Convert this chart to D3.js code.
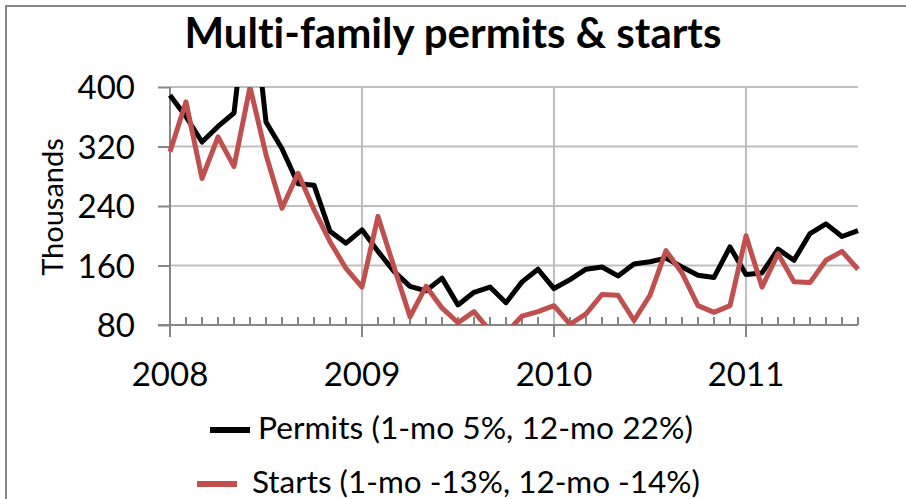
<!DOCTYPE html>
<html>
<head>
<meta charset="utf-8">
<script src="https://cdn.jsdelivr.net/npm/d3@7"></script>
<style>
  body { margin: 0; background: #fff; }
  text { font-family: Lato, "Open Sans", sans-serif; fill: #000; font-variant-ligatures: none; }
</style>
</head>
<body>
<div id="container"></div>
<script>
const w = 906;
const h = 499;

// monthly, Jan 2008 .. Aug 2011 (thousands, annual rate)
const years = [2008, 2009, 2010, 2011];
const yTicks = [80, 160, 240, 320, 400];
const permits = [389, 360, 326, 347, 365, 550, 353, 317, 270, 268, 206, 190,
                 208, 179, 152, 132, 126, 143, 107, 124, 131, 110, 138, 155,
                 129, 141, 155, 158, 146, 162, 165, 170, 158, 147, 144, 185,
                 148, 150, 182, 167, 203, 216, 199, 207];
const starts = [313, 380, 277, 333, 293, 400, 309, 237, 284, 235, 192, 156,
                131, 226, 158, 91, 132, 103, 83, 98, 72, 69, 92, 98,
                106, 81, 95, 121, 120, 86, 120, 180, 150, 106, 97, 106,
                200, 131, 176, 138, 137, 167, 179, 155];
const seriesNames = ['Permits (1-mo 5%, 12-mo 22%)', 'Starts (1-mo -13%, 12-mo -14%)'];
const colors = ['#000000', '#c0504d'];

const pLeft = 170, pRight = 858, pTop = 87, pBottom = 325;
const axisGrey = '#868686';
const gridGrey = '#bfbfbf';

const xScale = d3.scaleLinear().domain([0, permits.length - 1]).range([pLeft, pRight]);
const yScale = d3.scaleLinear().domain([80, 400]).range([pBottom, pTop]);

const svg = d3.select('#container').append('svg')
    .attr('width', w)
    .attr('height', h);

// outer frame
svg.append('rect')
    .attr('x', 6).attr('y', 6)
    .attr('width', 1000).attr('height', 700)
    .attr('fill', 'none')
    .attr('stroke', axisGrey)
    .attr('stroke-width', 2);

// fit text to a width by adjusting font size
const fit = (sel, width) => {
    const node = sel.node();
    const size = parseFloat(sel.attr('font-size'));
    const len = node.getComputedTextLength();
    sel.attr('font-size', size * width / len);
};

// title
const title = svg.append('text')
    .attr('x', 453).attr('y', 48)
    .attr('text-anchor', 'middle')
    .attr('font-weight', 'bold')
    .attr('font-size', 36)
    .text('Multi-family permits & starts');
fit(title, 537);

// horizontal gridlines
svg.selectAll('.hgrid')
    .data(yTicks.slice(1))
    .enter()
    .append('line')
    .attr('class', 'hgrid')
    .attr('x1', pLeft).attr('x2', pRight)
    .attr('y1', d => yScale(d)).attr('y2', d => yScale(d))
    .attr('stroke', gridGrey)
    .attr('stroke-width', 2);

// vertical gridlines at years
svg.selectAll('.vgrid')
    .data(years.slice(1))
    .enter()
    .append('line')
    .attr('class', 'vgrid')
    .attr('x1', (d, i) => xScale((i + 1) * 12)).attr('x2', (d, i) => xScale((i + 1) * 12))
    .attr('y1', pTop).attr('y2', pBottom)
    .attr('stroke', gridGrey)
    .attr('stroke-width', 2);

// y axis
const yAxis = d3.axisLeft(yScale).tickValues(yTicks).tickSize(12).tickPadding(23);
const gy = svg.append('g')
    .attr('transform', 'translate(' + pLeft + ',0)')
    .call(yAxis);
gy.select('.domain').remove();
gy.selectAll('.tick line').attr('stroke', axisGrey).attr('stroke-width', 2);
gy.selectAll('.tick text')
    .attr('font-family', 'Lato, sans-serif')
    .attr('font-size', 33)
    .attr('fill', '#000')
    .attr('dy', '0.36em');

// x axis: month ticks up, year ticks down
const months = d3.range(permits.length);
svg.selectAll('.mtick')
    .data(months.filter(d => d % 12 !== 0))
    .enter()
    .append('line')
    .attr('class', 'mtick')
    .attr('x1', d => xScale(d)).attr('x2', d => xScale(d))
    .attr('y1', pBottom).attr('y2', pBottom - 8)
    .attr('stroke', axisGrey)
    .attr('stroke-width', 2);

svg.selectAll('.ytick')
    .data(years)
    .enter()
    .append('line')
    .attr('class', 'ytick')
    .attr('x1', (d, i) => xScale(i * 12)).attr('x2', (d, i) => xScale(i * 12))
    .attr('y1', pBottom).attr('y2', pBottom + 12)
    .attr('stroke', axisGrey)
    .attr('stroke-width', 2);

svg.append('line')
    .attr('x1', pLeft - 12).attr('x2', pRight)
    .attr('y1', pBottom).attr('y2', pBottom)
    .attr('stroke', axisGrey).attr('stroke-width', 2);
svg.append('line')
    .attr('x1', pLeft).attr('x2', pLeft)
    .attr('y1', pTop).attr('y2', pBottom + 12)
    .attr('stroke', axisGrey).attr('stroke-width', 2);

svg.selectAll('.ylabel')
    .data(years)
    .enter()
    .append('text')
    .attr('class', 'ylabel')
    .attr('x', (d, i) => xScale(i * 12))
    .attr('y', 386)
    .attr('text-anchor', 'middle')
    .attr('font-size', 33)
    .text(d => d);

// y title
svg.append('text')
    .attr('transform', 'translate(63,207) rotate(-90)')
    .attr('text-anchor', 'middle')
    .attr('font-size', 29)
    .text('Thousands');

// lines
svg.append('clipPath').attr('id', 'clip')
    .append('rect')
    .attr('x', pLeft - 10).attr('y', pTop)
    .attr('width', pRight - pLeft + 20).attr('height', pBottom - pTop);

const line = d3.line()
    .x((d, i) => xScale(i))
    .y(d => yScale(d));

svg.append('g').attr('clip-path', 'url(#clip)')
    .selectAll('path')
    .data([permits, starts])
    .enter()
    .append('path')
    .attr('d', d => line(d))
    .attr('fill', 'none')
    .attr('stroke', (d, i) => colors[i])
    .attr('stroke-width', 5)
    .attr('stroke-linejoin', 'round');

// legend
const legend = [
    { x1: 210, x2: 250, y: 430, tx: 258, ty: 439, tw: 435 },
    { x1: 197, x2: 237, y: 484, tx: 252, ty: 493, tw: 448 }
];
legend.forEach((l, i) => {
    svg.append('line')
        .attr('x1', l.x1).attr('x2', l.x2)
        .attr('y1', l.y).attr('y2', l.y)
        .attr('stroke', colors[i])
        .attr('stroke-width', 6);
    const t = svg.append('text')
        .attr('x', l.tx).attr('y', l.ty)
        .attr('font-size', 28)
        .text(seriesNames[i]);
    fit(t, l.tw);
});
</script>
</body>
</html>
